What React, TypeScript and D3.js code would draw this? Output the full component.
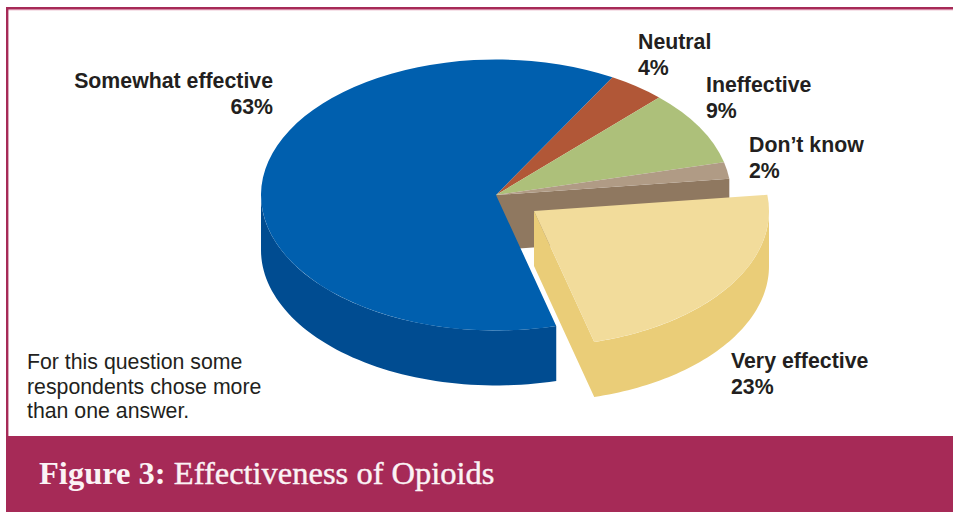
import React from "react";
import * as d3 from "d3";

// Survey answers, clockwise from the top of the pie.
const answers = ["Neutral", "Ineffective", "Don\u2019t know", "Very effective", "Somewhat effective"];
const percents = [4, 9, 2, 23, 63];
const topColors = ["#b15737", "#adc07a", "#b09b85", "#f2dc9b", "#005fae"];
const sideColors = ["#8f4529", "#8b9c5f", "#8f7860", "#eacd78", "#004c91"];
const noteLines = ["For this question some", "respondents chose more", "than one answer."];
const title = ["Figure 3:", " Effectiveness of Opioids"];

const WIDTH = 953;
const HEIGHT = 512;
const MAROON = "#a62a57";
const INK = "#231f20";
const LABEL_FONT = "'Liberation Sans', Arial, sans-serif";

const cx = 496;
const cy = 195;
const rx = 235;
const ry = 135.5;
const depth = 55;
const explodedDx = 38;
const explodedDy = 16;
const explodedIndex = 3;
const firstAngle = (29.7 * Math.PI) / 180;

const slices = d3
  .pie<number>()
  .sort(null)
  .value((d) => d)
  .startAngle(firstAngle)
  .endAngle(firstAngle + 2 * Math.PI)(percents);

const tilt = ry / rx;
const topArc = d3.arc<d3.PieArcDatum<number>>().innerRadius(0).outerRadius(rx);

const rimX = (a: number) => rx * Math.sin(a);
const rimY = (a: number) => -ry * Math.cos(a);

// Side of a slice seen from the front: the radial cut at `end` (when asked for)
// followed by the stretch of outer rim facing the viewer, as one closed shape.
function sidePath(start: number, end: number, withCut: boolean): string | null {
  const from = Math.max(start, Math.PI / 2);
  const to = Math.min(end, (3 * Math.PI) / 2);
  if (to <= from) return null;
  const p = d3.path();
  const steps = d3.range(0, 61).map((i) => from + ((to - from) * i) / 60);
  steps.forEach((a, i) => {
    if (i === 0) p.moveTo(rimX(a), rimY(a));
    else p.lineTo(rimX(a), rimY(a));
  });
  if (withCut) {
    p.lineTo(0, 0);
    p.lineTo(0, depth);
  }
  [...steps].reverse().forEach((a) => p.lineTo(rimX(a), rimY(a) + depth));
  p.closePath();
  return p.toString();
}

// Flat face exposed along a radial cut at the given angle.
function cutPath(a: number): string {
  const p = d3.path();
  p.moveTo(0, 0);
  p.lineTo(rimX(a), rimY(a));
  p.lineTo(rimX(a), rimY(a) + depth);
  p.lineTo(0, depth);
  p.closePath();
  return p.toString();
}

function Label({ x, y, anchor, name, value }: { x: number; y: number; anchor: string; name: string; value: number }) {
  return (
    <text x={x} y={y} textAnchor={anchor} fontFamily={LABEL_FONT} fontWeight={700} fontSize={21.3} fill={INK}>
      <tspan x={x}>{name}</tspan>
      <tspan x={x} dy={26}>{`${value}%`}</tspan>
    </text>
  );
}

const labelPlacement = [
  { x: 638, y: 49, anchor: "start" },
  { x: 706, y: 92, anchor: "start" },
  { x: 749, y: 152, anchor: "start" },
  { x: 731, y: 368, anchor: "start" },
  { x: 273, y: 88, anchor: "end" },
];

export default function App() {
  const fixed = slices.filter((s) => s.index !== explodedIndex);
  const pulled = slices[explodedIndex];
  const gapSide = slices[explodedIndex - 1];
  return (
    <svg
      width={WIDTH}
      height={HEIGHT}
      viewBox={`0 0 ${WIDTH} ${HEIGHT}`}
      style={{ position: "absolute", left: 0, top: 0, display: "block", background: "#fff" }}
    >
      {/* Frame and caption band */}
      <rect x={6} y={7} width={WIDTH - 6} height={2.4} fill={MAROON} />
      <rect x={6} y={9.4} width={WIDTH - 6} height={0.8} fill="#cf6f92" />
      <rect x={6} y={7} width={2.4} height={430} fill={MAROON} />
      <rect x={6} y={436} width={WIDTH - 6} height={HEIGHT - 436} fill={MAROON} />

      {/* Pie in its resting position */}
      <g transform={`translate(${cx},${cy})`}>
        <path d={cutPath(gapSide.endAngle)} fill={sideColors[gapSide.index]} />
        {fixed.map((s) => {
          const side = sidePath(s.startAngle, s.endAngle, false);
          return side ? <path key={s.index} d={side} fill={sideColors[s.index]} /> : null;
        })}
        <g transform={`scale(1,${tilt})`}>
          {fixed.map((s) => (
            <path key={s.index} d={topArc(s) ?? ""} fill={topColors[s.index]} />
          ))}
        </g>
      </g>

      {/* Pulled-out slice */}
      <g transform={`translate(${cx + explodedDx},${cy + explodedDy})`}>
        <path d={sidePath(pulled.startAngle, pulled.endAngle, true) ?? ""} fill={sideColors[pulled.index]} />
        <g transform={`scale(1,${tilt})`}>
          <path d={topArc(pulled) ?? ""} fill={topColors[pulled.index]} />
        </g>
      </g>

      {answers.map((name, i) => (
        <Label key={name} {...labelPlacement[i]} name={name} value={percents[i]} />
      ))}

      <text fontFamily={LABEL_FONT} fontSize={21.3} fill={INK}>
        {noteLines.map((line, i) => (
          <tspan key={line} x={27} y={369 + i * 24.5}>{line}</tspan>
        ))}
      </text>

      <text x={39} y={484} fontFamily="'Liberation Serif', serif" fontSize={32.5} fill="#fbf3f5">
        <tspan fontWeight={700}>{title[0]}</tspan>
        <tspan stroke="#fbf3f5" strokeWidth={0.4}>{title[1]}</tspan>
      </text>
    </svg>
  );
}
